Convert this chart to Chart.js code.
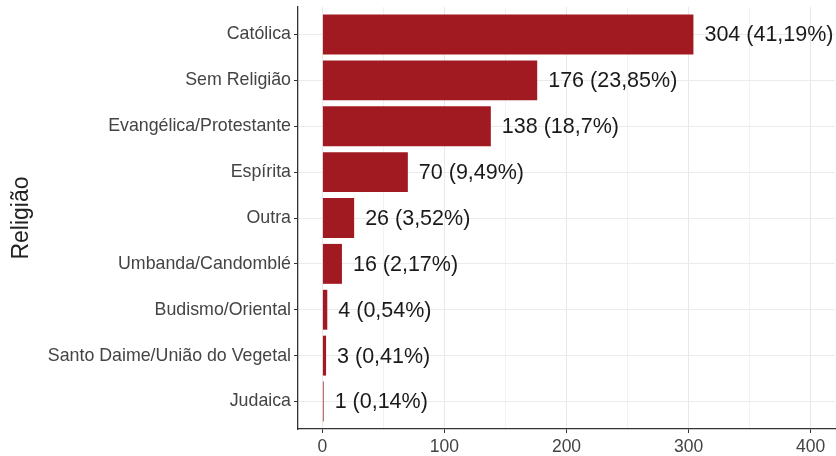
<!DOCTYPE html>
<html><head><meta charset="utf-8">
<script src="https://cdn.jsdelivr.net/npm/chart.js@4/dist/chart.umd.min.js"></script>
<style>html,body{margin:0;padding:0;background:#fff}#wrap{width:836px;height:456px}</style>
</head><body><div id="wrap"><canvas id="c" width="836" height="456"></canvas></div>
<script>
const categories = ["Católica","Sem Religião","Evangélica/Protestante","Espírita","Outra","Umbanda/Candomblé","Budismo/Oriental","Santo Daime/União do Vegetal","Judaica"];
const counts = [304,176,138,70,26,16,4,3,1];
const percents = ["41,19","23,85","18,7","9,49","3,52","2,17","0,54","0,41","0,14"];
const xMajorTicks = [0,100,200,300,400];
const xMinorTicks = [50,150,250,350];
const axisTitle = "Religião";

const FONT = '"Liberation Sans", Arial, sans-serif';

const valueLabels = {
  id: 'valueLabels',
  afterDatasetsDraw(chart) {
    const meta = chart.getDatasetMeta(0);
    const ctx = chart.ctx;
    ctx.save();
    ctx.font = '21.5px ' + FONT;
    ctx.fillStyle = '#1a1a1a';
    ctx.textAlign = 'left';
    ctx.textBaseline = 'middle';
    meta.data.forEach((bar, i) => {
      ctx.fillText(counts[i] + ' (' + percents[i] + '%)', bar.x + 11, bar.y + 1);
    });
    ctx.restore();
  }
};

const isMajor = v => xMajorTicks.includes(v);

new Chart(document.getElementById('c'), {
  type: 'bar',
  data: {
    datasets: [{
      data: categories.map((c, i) => ({ x: counts[i], y: i })),
      backgroundColor: '#a11a21',
      borderWidth: 0,
      categoryPercentage: 1,
      barPercentage: 0.87
    }]
  },
  options: {
    indexAxis: 'y',
    responsive: false,
    animation: false,
    devicePixelRatio: 1,
    layout: { padding: { top: 7, right: 1, left: 0, bottom: 0 } },
    plugins: { legend: { display: false }, tooltip: { enabled: false } },
    scales: {
      x: {
        type: 'linear',
        min: -20,
        max: 420,
        afterBuildTicks: s => { s.ticks = xMajorTicks.concat(xMinorTicks).sort((a,b)=>a-b).map(v => ({ value: v })); },
        afterFit: s => { s.height = 27; s.paddingLeft = 0; s.paddingRight = 0; },
        border: { display: true, color: '#333333', width: 1.3 },
        grid: {
          color: c => (c.tick && isMajor(c.tick.value)) ? '#e8e8e8' : '#f2f2f2',
          lineWidth: 1,
          tickLength: 4,
          tickColor: c => (c.tick && isMajor(c.tick.value)) ? '#333333' : 'rgba(0,0,0,0)'
        },
        ticks: {
          autoSkip: false,
          maxRotation: 0,
          padding: 4,
          color: '#444444',
          font: { size: 17.5, family: FONT },
          callback: v => isMajor(v) ? String(v) : ''
        }
      },
      y: {
        type: 'linear',
        reverse: true,
        offset: false,
        bounds: 'data',
        min: -0.6,
        max: categories.length - 1 + 0.6,
        afterBuildTicks: s => { s.ticks = categories.map((c, i) => ({ value: i })); },
        afterFit: s => { s.width = 298; s.paddingTop = 0; s.paddingBottom = 0; },
        border: { display: true, color: '#333333', width: 1.3 },
        grid: { offset: false, color: '#ebebeb', lineWidth: 1, tickLength: 4, tickColor: '#333333' },
        ticks: {
          autoSkip: false,
          padding: 3,
          color: '#444444',
          font: { size: 17.8, family: FONT },
          callback: v => categories[v]
        },
        title: {
          display: true,
          text: axisTitle,
          color: '#222222',
          font: { size: 23, family: FONT },
          padding: { top: 8, bottom: 0 }
        }
      }
    }
  },
  plugins: [valueLabels]
});
</script>
</body></html>
